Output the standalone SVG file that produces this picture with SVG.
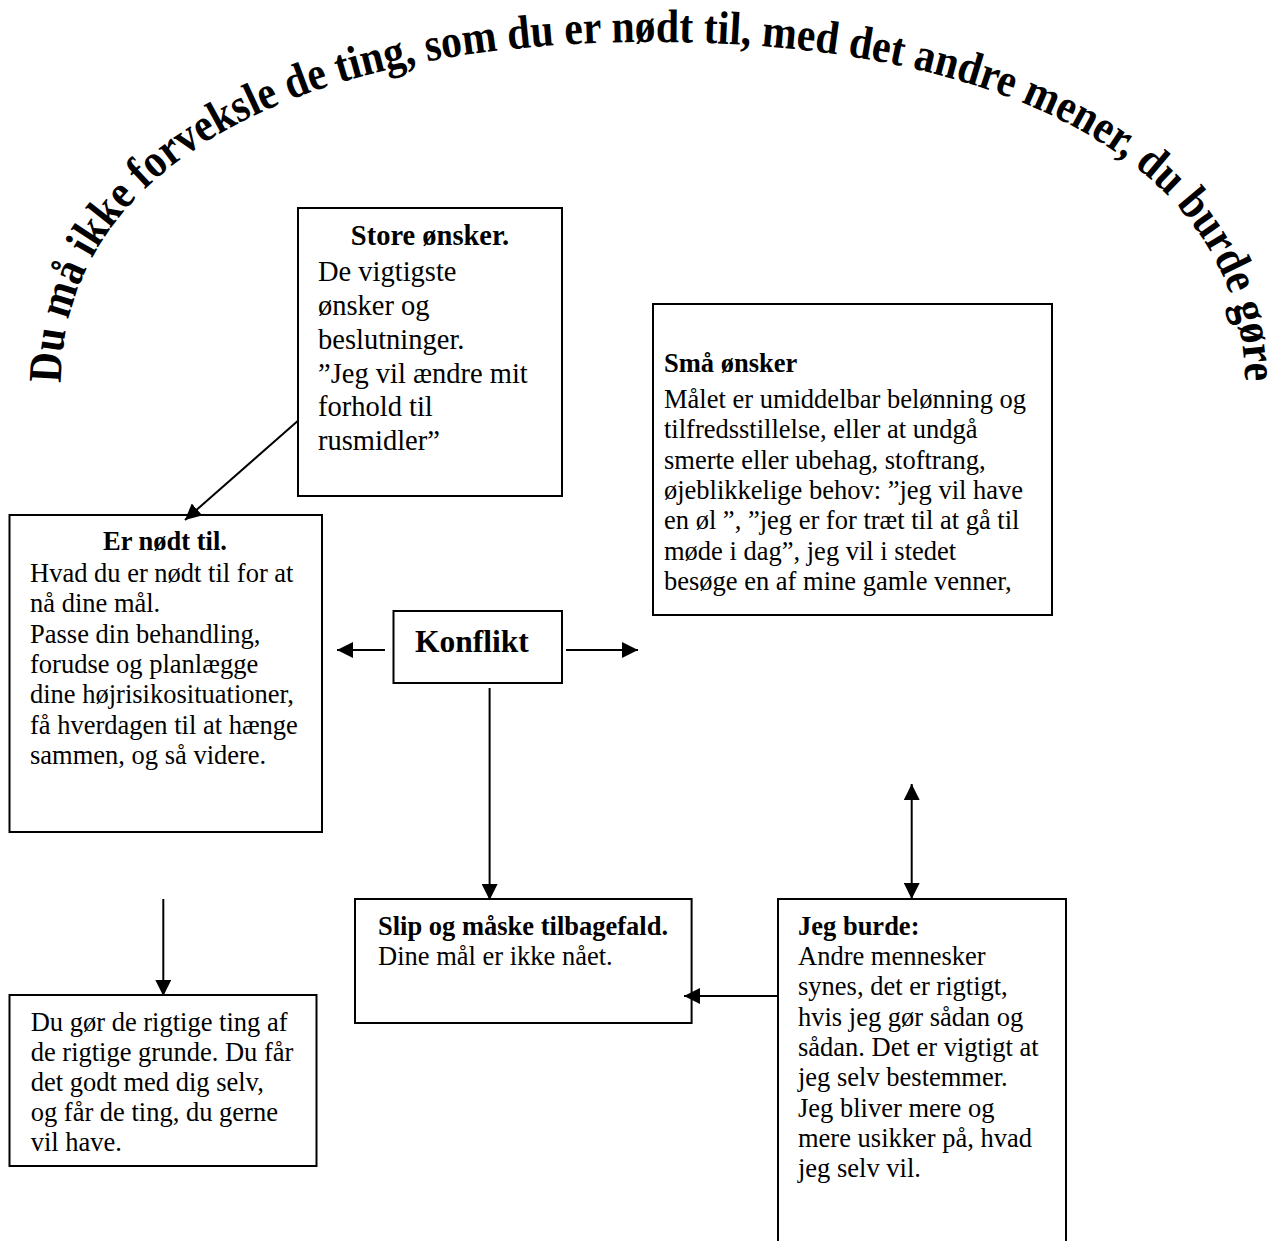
<svg xmlns="http://www.w3.org/2000/svg" width="1280" height="1241" viewBox="0 0 1280 1241">
<style>
.box{fill:#fff;stroke:#000;stroke-width:2}
.t{font-family:"Liberation Serif","Times New Roman",serif;font-size:26.5px;fill:#000}
.b{font-weight:bold}
.big{font-size:28.5px}
.con{stroke:#000;stroke-width:2;fill:none}
.arc{font-family:"Liberation Serif","Times New Roman",serif;font-weight:bold;font-size:47px;fill:#000}
</style>
<defs>
<marker id="ah" viewBox="0 0 16 16" refX="16" refY="8" markerWidth="16" markerHeight="16" markerUnits="userSpaceOnUse" orient="auto-start-reverse">
<path d="M0,0 L16,8 L0,16 z" fill="#000"/>
</marker>
<path id="arcPath" d="M61,383 C61,173.4 286,42 653,42 C1020,42 1245,173.4 1245,383" fill="none"/>
</defs>
<rect width="1280" height="1241" fill="#fff"/>
<g id="title">
<text class="arc"><textPath href="#arcPath" textLength="1515" lengthAdjust="spacingAndGlyphs">Du må ikke forveksle de ting, som du er nødt til, med det andre mener, du burde gøre</textPath></text>
</g>
<g id="store">
<rect class="box" x="298" y="208" width="264" height="288"/>
<text class="t b big" x="430" y="245" text-anchor="middle">Store ønsker.</text>
<text class="t big" x="318" y="281">De vigtigste</text>
<text class="t big" x="318" y="315">ønsker og</text>
<text class="t big" x="318" y="348.5">beslutninger.</text>
<text class="t big" x="318" y="382.5">”Jeg vil ændre mit</text>
<text class="t big" x="318" y="416">forhold til</text>
<text class="t big" x="318" y="450">rusmidler”</text>
</g>
<g id="smaa">
<rect class="box" x="653" y="304" width="399" height="311"/>
<text class="t b" x="664" y="372">Små ønsker</text>
<text class="t" x="664" y="408">Målet er umiddelbar belønning og</text>
<text class="t" x="664" y="438.3">tilfredsstillelse, eller at undgå</text>
<text class="t" x="664" y="468.6">smerte eller ubehag, stoftrang,</text>
<text class="t" x="664" y="498.9">øjeblikkelige behov: ”jeg vil have</text>
<text class="t" x="664" y="529.2">en øl ”, ”jeg er for træt til at gå til</text>
<text class="t" x="664" y="559.5">møde i dag”, jeg vil i stedet</text>
<text class="t" x="664" y="589.8">besøge en af mine gamle venner,</text>
</g>
<g id="noedt">
<rect class="box" x="9.5" y="515" width="312.5" height="317"/>
<text class="t b" x="165" y="550" text-anchor="middle">Er nødt til.</text>
<text class="t" x="30" y="582">Hvad du er nødt til for at</text>
<text class="t" x="30" y="612.3">nå dine mål.</text>
<text class="t" x="30" y="642.6">Passe din behandling,</text>
<text class="t" x="30" y="672.9">forudse og planlægge</text>
<text class="t" x="30" y="703.2">dine højrisikosituationer,</text>
<text class="t" x="30" y="733.5">få hverdagen til at hænge</text>
<text class="t" x="30" y="763.8">sammen, og så videre.</text>
</g>
<g id="konflikt">
<rect class="box" x="393.5" y="611" width="168.5" height="72"/>
<text class="t b" x="415" y="652" style="font-size:31.5px">Konflikt</text>
</g>
<g id="slip">
<rect class="box" x="355" y="899" width="336.6" height="124"/>
<text class="t b" x="378" y="935">Slip og måske tilbagefald.</text>
<text class="t" x="378" y="965">Dine mål er ikke nået.</text>
</g>
<g id="burde">
<rect class="box" x="778" y="899" width="288" height="360"/>
<text class="t b" x="798" y="935">Jeg burde:</text>
<text class="t" x="798" y="965">Andre mennesker</text>
<text class="t" x="798" y="995.3">synes, det er rigtigt,</text>
<text class="t" x="798" y="1025.6">hvis jeg gør sådan og</text>
<text class="t" x="798" y="1055.9">sådan. Det er vigtigt at</text>
<text class="t" x="798" y="1086.2">jeg selv bestemmer.</text>
<text class="t" x="798" y="1116.5">Jeg bliver mere og</text>
<text class="t" x="798" y="1146.8">mere usikker på, hvad</text>
<text class="t" x="798" y="1177.1">jeg selv vil.</text>
</g>
<g id="rigtige">
<rect class="box" x="9.5" y="995" width="307" height="171"/>
<text class="t" x="30.7" y="1031">Du gør de rigtige ting af</text>
<text class="t" x="30.7" y="1061">de rigtige grunde. Du får</text>
<text class="t" x="30.7" y="1091">det godt med dig selv,</text>
<text class="t" x="30.7" y="1121">og får de ting, du gerne</text>
<text class="t" x="30.7" y="1151">vil have.</text>
</g>
<g id="connectors">
<line class="con" x1="297.7" y1="421" x2="185" y2="520" marker-end="url(#ah)"/>
<line class="con" x1="385" y1="650" x2="337" y2="650" marker-end="url(#ah)"/>
<line class="con" x1="566" y1="650" x2="638" y2="650" marker-end="url(#ah)"/>
<line class="con" x1="489.6" y1="688" x2="489.6" y2="900" marker-end="url(#ah)"/>
<line class="con" x1="163.3" y1="899" x2="163.3" y2="996" marker-end="url(#ah)"/>
<line class="con" x1="911.7" y1="784" x2="911.7" y2="899" marker-start="url(#ah)" marker-end="url(#ah)"/>
<line class="con" x1="778" y1="996" x2="684" y2="996" marker-end="url(#ah)"/>
</g>
</svg>
